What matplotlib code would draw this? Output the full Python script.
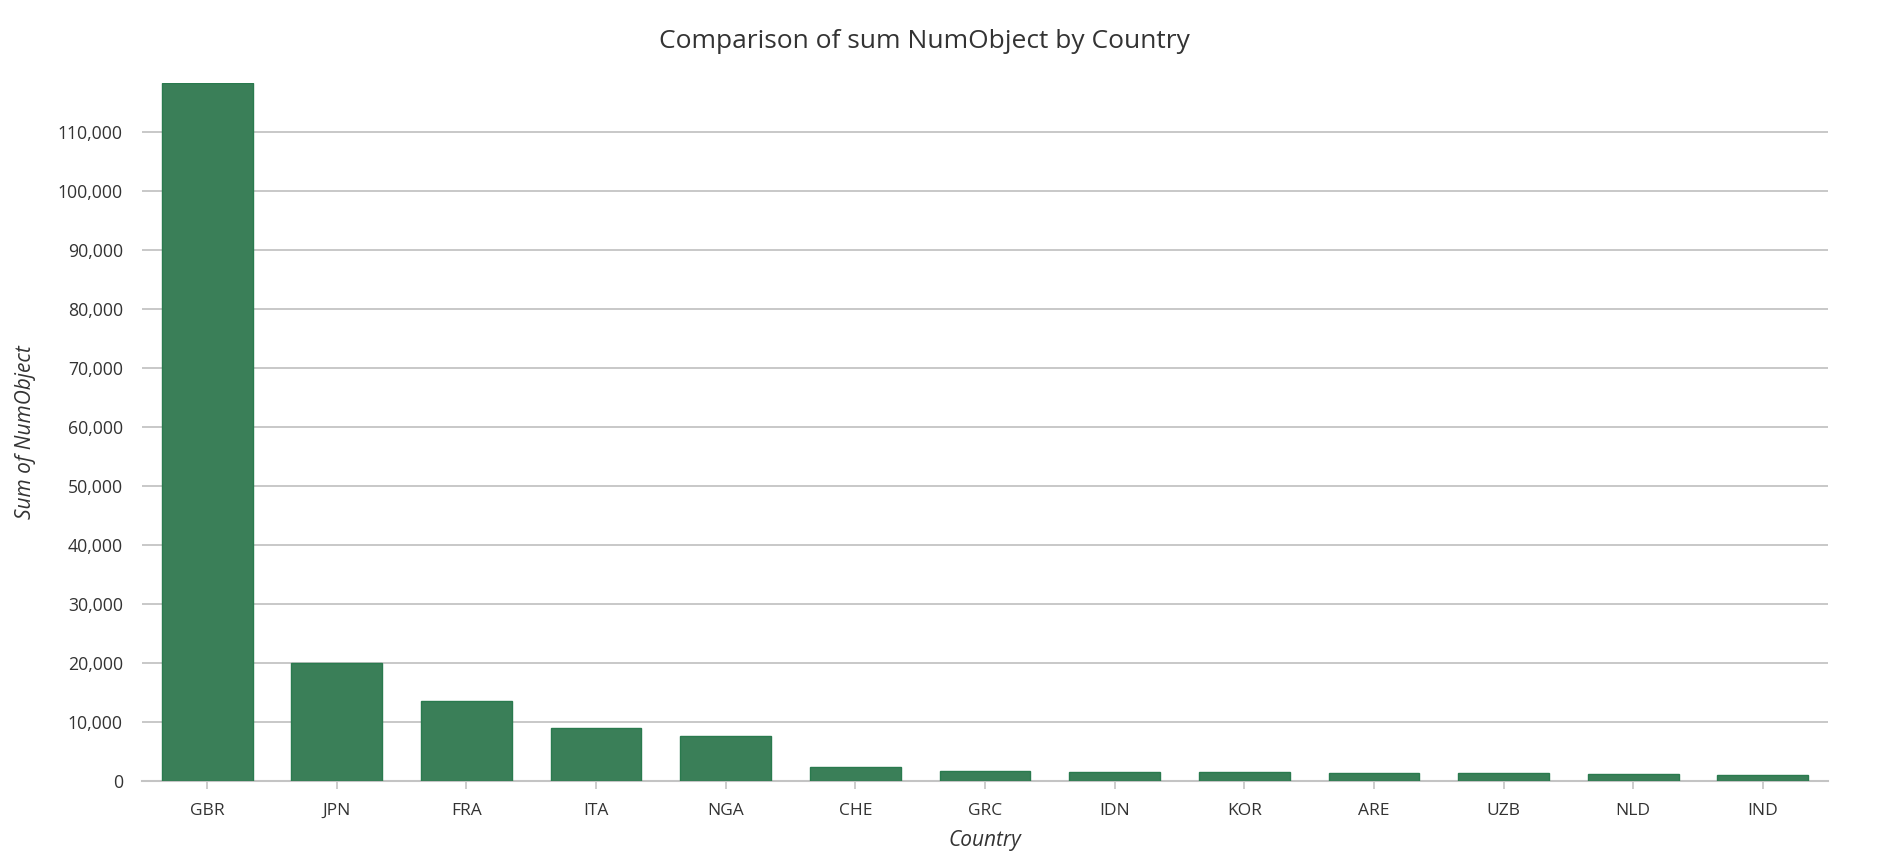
import matplotlib.pyplot as plt
from matplotlib.ticker import FuncFormatter, MultipleLocator

# DATA
countries = ["GBR", "JPN", "FRA", "ITA", "NGA", "CHE", "GRC",
             "IDN", "KOR", "ARE", "UZB", "NLD", "IND"]
num_objects = [118300, 19900, 13600, 9000, 7600, 2400, 1650,
               1550, 1450, 1300, 1280, 1130, 1020]

BAR_COLOR = "#3a7f58"
EDGE_COLOR = "#2a7a4e"
TEXT_COLOR = "#333333"
GRID_COLOR = "#c4c4c4"

plt.rcParams["font.family"] = ["Open Sans", "DejaVu Sans"]

fig = plt.figure(figsize=(18.9, 8.58), dpi=100)
ax = fig.add_axes([0.0753, 0.090, 0.8917, 0.813])

x = range(len(countries))
ax.bar(x, num_objects, width=0.70, color=BAR_COLOR,
       edgecolor=EDGE_COLOR, linewidth=1.0, zorder=3)

ax.set_xlim(-0.5, len(countries) - 0.5)
ax.set_ylim(0, max(num_objects))

# axes styling
ax.yaxis.set_major_locator(MultipleLocator(10000))
ax.yaxis.set_major_formatter(FuncFormatter(lambda v, p: f"{int(v):,}"))
ax.grid(axis="y", color=GRID_COLOR, linewidth=1.3, zorder=0)
for side in ["top", "right", "left"]:
    ax.spines[side].set_visible(False)
ax.spines["bottom"].set_color(GRID_COLOR)
ax.spines["bottom"].set_linewidth(1.5)

ax.set_xticks(list(x))
ax.set_xticklabels(countries)
ax.tick_params(axis="x", length=6, width=1.2, color=GRID_COLOR,
               labelsize=12.5, labelcolor=TEXT_COLOR, pad=10)
ax.tick_params(axis="y", length=0, labelsize=12.7, labelcolor=TEXT_COLOR, pad=14)

ax.set_xlabel("Country", fontsize=15, style="italic", color=TEXT_COLOR, labelpad=8)
ax.set_ylabel("Sum of NumObject", fontsize=15, style="italic", color=TEXT_COLOR, labelpad=16)

fig.suptitle("Comparison of sum NumObject by Country", fontsize=19,
             color=TEXT_COLOR, x=0.489, y=0.966)

fig.savefig("out.png", dpi=100, facecolor="white")
